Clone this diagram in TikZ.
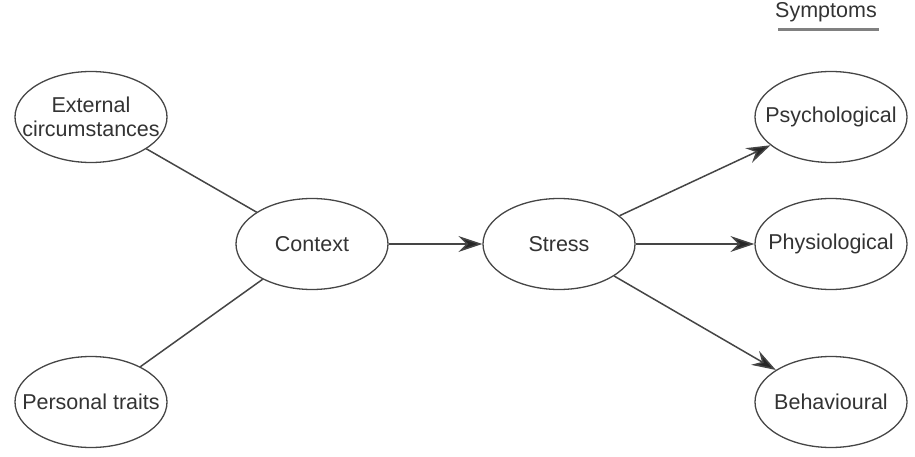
\documentclass[tikz,border=0pt]{standalone}
\usepackage{fontspec}
\setmainfont{Liberation Sans}
\usetikzlibrary{shapes.geometric,arrows.meta}
\definecolor{ink}{HTML}{333333}
\definecolor{linec}{HTML}{454545}
\tikzset{
  ell/.style={ellipse, draw=linec, line width=1.3pt, minimum width=152pt, minimum height=91pt, inner sep=0pt},
  lbl/.style={text=ink, font=\fontsize{21.5pt}{24pt}\selectfont, align=center, inner sep=0pt},
  conn/.style={draw=linec, line width=1.5pt},
  arr/.style={conn, -{Stealth[length=24pt, width=16pt, inset=8pt, fill=black!85]}}
}
\begin{document}
\begin{tikzpicture}[x=1pt,y=-1pt]
\useasboundingbox (0,0) rectangle (915,457);
\node[ell] (ext) at (91,117) {};
\node[lbl] at (ext) {External\\circumstances};
\node[ell] (pers) at (91,402) {};
\node[lbl] at (pers) {Personal traits};
\node[ell] (ctx) at (312,244) {};
\node[lbl] at (ctx) {Context};
\node[ell] (str) at (559,244) {};
\node[lbl] at (str) {Stress};
\node[ell] (psy) at (831,117) {};
\node[lbl] at (psy) {Psychological};
\node[ell] (phy) at (831,244) {};
\node[lbl] at (phy) {Physiological};
\node[ell] (beh) at (831,402) {};
\node[lbl] at (beh) {Behavioural};
\node[lbl, anchor=base] (sym) at (826,18) {Symptoms};
\coordinate (ul) at (778,30);
\coordinate (ur) at (879,30);
\draw[draw=black!50, line width=3pt] (ul) -- (ur);
\draw[conn] (ext) -- (ctx);
\draw[conn] (pers) -- (ctx);
\draw[arr] (ctx) -- (str);
\draw[arr] (str) -- (psy);
\draw[arr] (str) -- (phy);
\draw[arr] (str) -- (beh);
\end{tikzpicture}
\end{document}
